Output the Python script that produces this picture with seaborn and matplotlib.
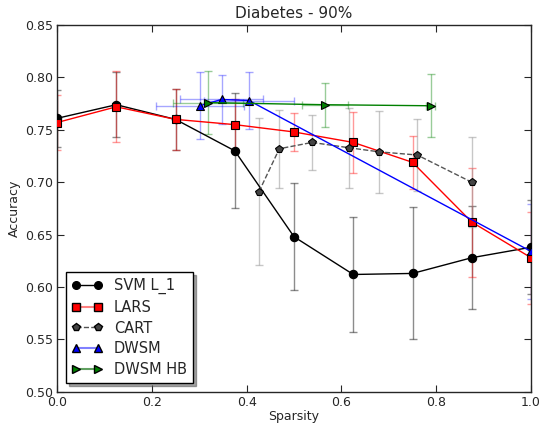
import matplotlib
matplotlib.use("Agg")
import matplotlib.pyplot as plt
from matplotlib.lines import Line2D
import seaborn as sns
import pandas as pd

# values
svm_x = [0.0, 0.125, 0.25, 0.375, 0.5, 0.625, 0.75, 0.875, 1.0]
svm_y = [0.761, 0.774, 0.760, 0.730, 0.648, 0.612, 0.613, 0.628, 0.638]
svm_err = [0.027, 0.031, 0.029, 0.055, 0.051, 0.055, 0.063, 0.049, 0.045]

lars_x = [0.0, 0.125, 0.25, 0.375, 0.5, 0.625, 0.75, 0.875, 1.0]
lars_y = [0.757, 0.772, 0.760, 0.755, 0.748, 0.738, 0.719, 0.662, 0.628]
lars_err = [0.026, 0.034, 0.029, 0.024, 0.018, 0.029, 0.025, 0.052, 0.044]

cart_x = [0.426, 0.469, 0.538, 0.615, 0.680, 0.760, 0.875]
cart_y = [0.691, 0.732, 0.738, 0.733, 0.729, 0.726, 0.700]
cart_err = [0.070, 0.037, 0.026, 0.038, 0.039, 0.034, 0.043]

dwsm_x = [0.301, 0.347, 0.405, 1.0]
dwsm_y = [0.773, 0.779, 0.778, 0.634]
dwsm_yerr = [0.032, 0.023, 0.027, 0.045]
dwsm_xerr = [0.093, 0.088, 0.094, 0.0]

hb_x = [0.319, 0.565, 0.788]
hb_y = [0.776, 0.774, 0.773]
hb_yerr = [0.030, 0.021, 0.030]
hb_xerr = [0.074, 0.048, 0.009]

sns.set_style("ticks", {"xtick.direction": "in", "ytick.direction": "in"})
plt.rcParams["font.family"] = ["DejaVu Sans"]

fig = plt.figure(figsize=(5.43, 4.25), dpi=100)
ax = fig.add_axes([0.105, 0.078, 0.873, 0.863])

# error bars (behind the lines)
ax.errorbar(svm_x, svm_y, yerr=svm_err, fmt="none", ecolor="k", alpha=0.45,
            capsize=3, elinewidth=1, zorder=1)
ax.errorbar(lars_x, lars_y, yerr=lars_err, fmt="none", ecolor="r", alpha=0.4,
            capsize=3, elinewidth=1, zorder=1)
ax.errorbar(cart_x, cart_y, yerr=cart_err, fmt="none", ecolor="#999999", alpha=0.55,
            capsize=3, elinewidth=1, zorder=1)
ax.errorbar(dwsm_x, dwsm_y, yerr=dwsm_yerr, xerr=dwsm_xerr, fmt="none", ecolor="b",
            alpha=0.35, capsize=3, elinewidth=1, zorder=1)
ax.errorbar(hb_x, hb_y, yerr=hb_yerr, xerr=hb_xerr, fmt="none", ecolor="g",
            alpha=0.4, capsize=3, elinewidth=1, zorder=1)

series = [
    ("SVM L_1", svm_x, svm_y, "k", "k", "o", "-"),
    ("LARS", lars_x, lars_y, "r", "r", "s", "-"),
    ("CART", cart_x, cart_y, "#555555", "#444444", "p", "--"),
    ("DWSM", dwsm_x, dwsm_y, "b", "b", "^", "-"),
    ("DWSM HB", hb_x, hb_y, "g", "g", ">", "-"),
]
for name, xs, ys, lc, fc, mk, ls in series:
    df = pd.DataFrame({"x": xs, "y": ys})
    sns.lineplot(data=df, x="x", y="y", ax=ax, color=lc, linestyle=ls,
                 linewidth=1, marker=mk, markersize=6, markerfacecolor=fc,
                 markeredgecolor="k", markeredgewidth=0.8, sort=False,
                 estimator=None, zorder=3)

ax.set_xlim(0, 1.0)
ax.set_ylim(0.5, 0.85)
ax.set_xticks([0.0, 0.2, 0.4, 0.6, 0.8, 1.0])
ax.set_yticks([0.50, 0.55, 0.60, 0.65, 0.70, 0.75, 0.80, 0.85])
ax.tick_params(top=True, right=True, length=5, width=0.8, labelsize=9, pad=3)
for sp in ax.spines.values():
    sp.set_linewidth(1.0)
ax.set_title("Diabetes - 90%", fontsize=11, pad=5)
ax.set_xlabel("Sparsity", fontsize=9, labelpad=1)
ax.set_ylabel("Accuracy", fontsize=9, labelpad=3)

handles = [
    Line2D([], [], color="k", marker="o", mfc="k", mec="k", ms=5.5, lw=1),
    Line2D([], [], color="#ff8080", marker="s", mfc="r", mec="k", ms=5.5, lw=1.5),
    Line2D([], [], color="#555555", ls="--", marker="p", mfc="#444444", mec="k", ms=5.5, lw=1),
    Line2D([], [], color="#8080ff", marker="^", mfc="b", mec="k", ms=5.5, lw=1.5),
    Line2D([], [], color="#60a060", marker=">", mfc="g", mec="k", ms=5.5, lw=1.5),
]
leg = ax.legend(handles, [s[0] for s in series], loc="lower left", fontsize=10.5,
                numpoints=2, shadow=True, fancybox=False, framealpha=1,
                edgecolor="k", handlelength=2.1, handletextpad=0.8,
                borderaxespad=0.6, labelspacing=0.4)
leg.get_frame().set_linewidth(1.0)

fig.savefig("out.png", dpi=100)
